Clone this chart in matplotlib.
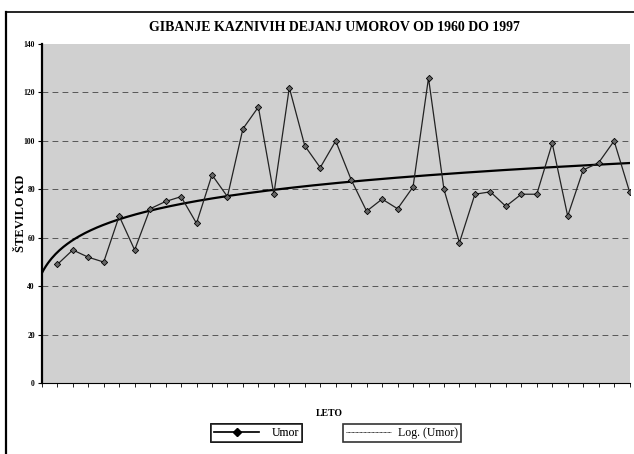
import numpy as np
import matplotlib
matplotlib.use('Agg')
import matplotlib.pyplot as plt
from matplotlib.lines import Line2D

leta = list(range(1960, 1998))
umor = [49, 55, 52, 50, 69, 55, 72, 75, 77, 66,
        86, 77, 105, 114, 78, 122, 98, 89, 100, 84,
        71, 76, 72, 81, 126, 80, 58, 78, 79, 73,
        78, 78, 99, 69, 88, 91, 100, 79]
y_ticks = [0, 20, 40, 60, 80, 100, 120, 140]

plt.rcParams['font.family'] = ['Liberation Serif', 'DejaVu Serif']

fig = plt.figure(figsize=(6.34, 4.54), dpi=100)
ax = fig.add_axes([0.066, 0.156, 0.927, 0.747])
ax.set_facecolor('#d0d0d0')

# pozicije kategorij (prva kategorija prazna, kot v Excelu)
x = np.arange(1, len(leta) + 1)

# logaritemski trend (Excel: y = a*ln(x) + b, x steje tudi prazno kategorijo)
a, b = np.polyfit(np.log(x + 1), umor, 1)
xt = np.linspace(0, len(leta), 300)
ax.plot(xt, a * np.log(xt + 1) + b, color='black', linewidth=1.6, zorder=3)

ax.plot(x, umor, color='#222222', linewidth=0.9, marker='D', markersize=3.2,
        markerfacecolor='#666666', markeredgecolor='black', markeredgewidth=0.6, zorder=4)

# mreza
for v in y_ticks[1:-1]:
    ax.axhline(v, color='#444444', linewidth=0.6, linestyle=(0, (7, 5)), zorder=1)

ax.set_xlim(0, len(leta))
ax.set_ylim(0, 140)
ax.set_yticks(y_ticks)
ax.set_yticklabels([str(v) for v in y_ticks], fontsize=5.5, fontweight='bold')
ax.set_xticks(np.arange(0, len(leta) + 1))
ax.set_xticklabels([])
ax.tick_params(axis='x', direction='out', length=3, width=0.6)
ax.tick_params(axis='y', direction='out', length=3, width=0.8, pad=2)
ax.spines['top'].set_visible(False)
ax.spines['right'].set_visible(False)
ax.spines['left'].set_linewidth(1.6)
ax.spines['bottom'].set_linewidth(0.8)

ax.set_ylabel('ŠTEVILO KD', fontsize=9, fontweight='bold')
ax.yaxis.set_label_coords(-0.026, 0.5)
fig.text(0.528, 0.94, 'GIBANJE KAZNIVIH DEJANJ UMOROV OD 1960 DO 1997',
         ha='center', va='center', fontsize=10, fontweight='bold')
fig.text(0.52, 0.09, 'LETO', ha='center', va='center', fontsize=7, fontweight='bold')

# legenda v dveh okvirjih
h1 = Line2D([], [], color='black', linewidth=1.2, marker='D', markersize=4.5)
h2 = Line2D([], [], color='black', linewidth=0.6, linestyle=(0, (1, 0.6)))
leg1 = fig.legend([h1], ['Umor'], loc='center', bbox_to_anchor=(0.405, 0.046),
                  fontsize=8.5, frameon=True, fancybox=False, edgecolor='black',
                  handlelength=3.8, borderpad=0.25, handletextpad=1.1)
leg1.get_frame().set_linewidth(1.2)
leg2 = fig.legend([h2], ['Log. (Umor)'], loc='center', bbox_to_anchor=(0.634, 0.046),
                  fontsize=8.5, frameon=True, fancybox=False, edgecolor='black',
                  handlelength=3.8, borderpad=0.25, handletextpad=0.6)
leg2.get_frame().set_linewidth(1.2)
fig.add_artist(leg1)

# okvir grafikona
fig.add_artist(Line2D([0.01, 0.01], [0.0, 0.974], color='black', linewidth=1.6))
fig.add_artist(Line2D([0.01, 1.0], [0.974, 0.974], color='black', linewidth=1.2))

fig.savefig('out.png', dpi=100)
